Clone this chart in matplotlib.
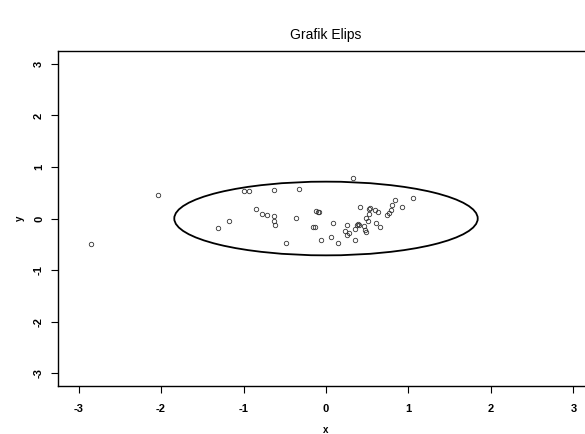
import numpy as np
import matplotlib
matplotlib.use("Agg")
from matplotlib import pyplot as plt
from matplotlib.patches import Ellipse

plt.rcParams['font.family'] = ['Liberation Sans', 'DejaVu Sans']

# data
x_pts = [-2.85, -2.04, -1.31, -1.18, -0.99, -0.93, -0.85, -0.78, -0.72, -0.63,
         -0.63, -0.63, -0.62, -0.48, -0.36, -0.33, -0.16, -0.13, -0.12, -0.10,
         -0.09, -0.06, 0.06, 0.08, 0.15, 0.23, 0.25, 0.26, 0.28, 0.33,
         0.35, 0.35, 0.37, 0.39, 0.40, 0.41, 0.46, 0.47, 0.49, 0.49,
         0.51, 0.52, 0.52, 0.53, 0.60, 0.61, 0.63, 0.66, 0.74, 0.76,
         0.79, 0.80, 0.84, 0.92, 1.05]
y_pts = [-0.50, 0.45, -0.19, -0.05, 0.53, 0.53, 0.19, 0.08, 0.07, 0.55,
         0.04, -0.05, -0.12, -0.47, 0.01, 0.57, -0.17, -0.17, 0.14, 0.13,
         0.13, -0.41, -0.36, -0.09, -0.47, -0.25, -0.13, -0.32, -0.28, 0.78,
         -0.42, -0.20, -0.12, -0.10, -0.13, 0.23, -0.14, -0.22, -0.27, 0.01,
         -0.05, 0.19, 0.08, 0.20, 0.17, -0.08, 0.12, -0.17, 0.07, 0.11,
         0.16, 0.26, 0.35, 0.23, 0.40]
ell_center = (0.0, 0.0)
ell_width = 3.68
ell_height = 1.43
ticks = [-3, -2, -1, 0, 1, 2, 3]

fig = plt.figure(figsize=(5.85, 4.34), dpi=100)
ax = fig.add_axes([58 / 585, 1 - 386 / 434, (594 - 58) / 585, (386 - 51) / 434])

ax.plot(x_pts, y_pts, 'o', mfc='none', mec='#333333', ms=3.2, mew=0.6)
ax.add_patch(Ellipse(ell_center, ell_width, ell_height, fill=False, ec='black', lw=1.3))

ax.set_xlim(-3.25, 3.25)
ax.set_ylim(-3.25, 3.25)
ax.set_xticks(ticks)
ax.set_yticks(ticks)
ax.set_xticklabels([str(t) for t in ticks], fontsize=8, fontweight='bold')
ax.set_yticklabels([str(t) for t in ticks], fontsize=8, fontweight='bold', rotation=90, va='center')
ax.tick_params(direction='out', length=5, width=0.8)
ax.tick_params(axis='x', pad=8)
ax.tick_params(axis='y', pad=5)
ax.set_xlabel('x', fontsize=7, fontweight='bold', va='center')
ax.set_ylabel('y', fontsize=7, fontweight='bold', va='center', ha='center')
ax.xaxis.set_label_coords(0.5, (386 - 430) / 335)
ax.yaxis.set_label_coords((20 - 58) / 536, 0.5)
for s in ax.spines.values():
    s.set_linewidth(1.0)

fig.text(326 / 585, 1 - 35 / 434, 'Grafik Elips', ha='center', va='center', fontsize=10)

fig.savefig('out.png', dpi=100)
